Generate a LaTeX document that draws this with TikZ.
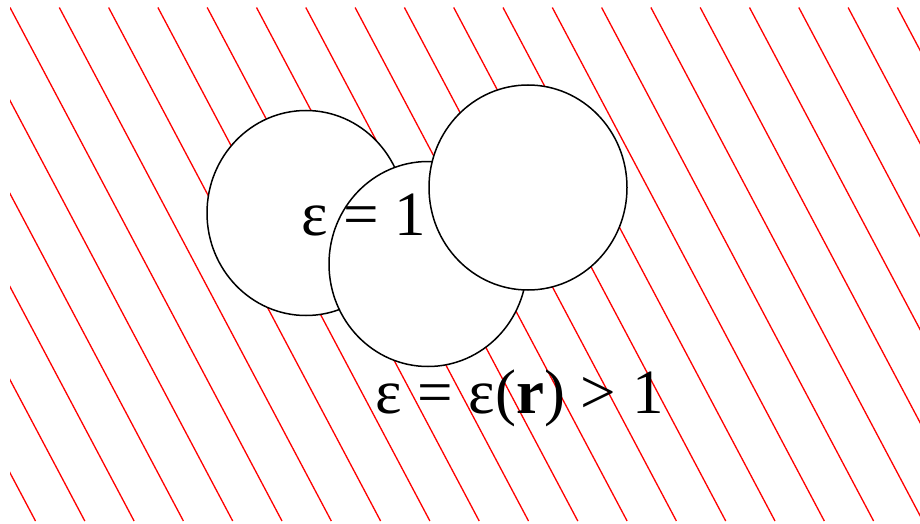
\documentclass[tikz,border=0pt]{standalone}
\usepackage{fontspec}
\setmainfont{Liberation Serif}
\usetikzlibrary{shapes.geometric}
\tikzset{
  hatch/.style={red,line width=1.3pt},
  ball/.style={ellipse,draw,fill=white,line width=1.5pt,inner sep=0pt,
               minimum width=198pt,minimum height=205pt},
  lbl/.style={font=\fontsize{63}{70}\selectfont,inner sep=0pt,anchor=base west},
}
\begin{document}
\begin{tikzpicture}[x=1pt,y=-1pt]
  \useasboundingbox (0,0) rectangle (920,524);
  % hatched dielectric
  \begin{scope}
    \clip (10,7.5) rectangle (920,521);
    \foreach \k in {-6,...,18}
      \draw[hatch] (10+49.3*\k,7.5) -- ++(272,513.5);
  \end{scope}
  % cavities
  \node[ball] (a) at (306,213) {};
  \node[ball] (b) at (428,264) {};
  \node[ball] (c) at (528,187.5) {};
  \node[lbl] (in) at (301,235) {ε = 1};
  \node[lbl] (out) at (375,413) {ε = ε(\textbf{r}) > 1};
\end{tikzpicture}
\end{document}
